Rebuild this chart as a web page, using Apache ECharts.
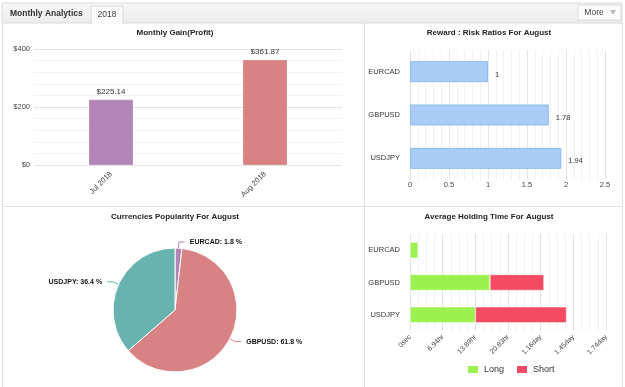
<!DOCTYPE html>
<html>
<head>
<meta charset="utf-8">
<script src="https://cdn.jsdelivr.net/npm/echarts@6/dist/echarts.min.js"></script>
<style>
  html, body { margin: 0; padding: 0; background: #fff; }
  #main { width: 625px; height: 387px; }
</style>
</head>
<body>
<div id="main"></div>
<script>
// data
var gainMonths = ['Jul 2018', 'Aug 2018'];
var gainValues = [225.14, 361.87];
var gainColors = ['#b384b6', '#d98284'];

var ratioPairs = ['EURCAD', 'GBPUSD', 'USDJPY'];
var ratioValues = [1, 1.78, 1.94];

var popNames = ['EURCAD', 'GBPUSD', 'USDJPY'];
var popValues = [1.8, 61.8, 36.4];
var popColors = ['#b384b6', '#d98284', '#68b3b0'];

var holdPairs = ['EURCAD', 'GBPUSD', 'USDJPY'];
var holdLong = [6300, 61200, 50000];   // seconds
var holdShort = [0, 41300, 69800];     // seconds

var FONT = 'Liberation Sans, Arial, sans-serif';

function fmtTime(v) {
    if (v === 0) return '0sec';
    if (v < 86400) return (v / 3600).toFixed(2) + 'hr';
    return (v / 86400).toFixed(2) + 'day';
}

var myChart = echarts.init(document.getElementById('main'));

var titleStyle = { fill: '#222', font: 'bold 8px ' + FONT, textAlign: 'center', textVerticalAlign: 'middle' };

option = {
    animation: false,
    textStyle: { fontFamily: FONT },
    graphic: [
        // header bar
        { type: 'rect', z: -10, shape: { x: 2, y: 3, width: 620, height: 20 },
          style: { fill: new echarts.graphic.LinearGradient(0, 0, 0, 1, [{ offset: 0, color: '#f7f7f7' }, { offset: 1, color: '#ececec' }]), stroke: '#dcdcdc', lineWidth: 1 } },
        { type: 'rect', z: -9, shape: { x: 91, y: 6, width: 32, height: 17 },
          style: { fill: '#fafafa', stroke: '#d8d8d8', lineWidth: 1 } },
        { type: 'line', z: -8, shape: { x1: 92, y1: 23, x2: 122, y2: 23 }, style: { stroke: '#fafafa', lineWidth: 2 } },
        { type: 'text', style: { text: 'Monthly Analytics', x: 10, y: 14, fill: '#333', font: 'bold 8.5px ' + FONT, textVerticalAlign: 'middle' } },
        { type: 'text', style: { text: '2018', x: 107, y: 15, fill: '#444', font: '8.5px ' + FONT, textAlign: 'center', textVerticalAlign: 'middle' } },
        { type: 'rect', z: -9, shape: { x: 578, y: 5, width: 43, height: 15 },
          style: { fill: '#fcfcfc', stroke: '#dadada', lineWidth: 1 } },
        { type: 'text', style: { text: 'More', x: 594, y: 13, fill: '#444', font: '8.5px ' + FONT, textAlign: 'center', textVerticalAlign: 'middle' } },
        { type: 'polygon', shape: { points: [[610, 10], [616, 10], [613, 15]] }, style: { fill: '#bbb' } },
        // frame and dividers
        { type: 'line', shape: { x1: 2.5, y1: 23, x2: 2.5, y2: 387 }, style: { stroke: '#e0e0e0', lineWidth: 1 } },
        { type: 'line', shape: { x1: 622.5, y1: 23, x2: 622.5, y2: 387 }, style: { stroke: '#e0e0e0', lineWidth: 1 } },
        { type: 'line', shape: { x1: 364.5, y1: 23, x2: 364.5, y2: 387 }, style: { stroke: '#e0e0e0', lineWidth: 1 } },
        { type: 'line', shape: { x1: 2, y1: 206.5, x2: 622, y2: 206.5 }, style: { stroke: '#e0e0e0', lineWidth: 1 } },
        // panel titles
        { type: 'text', style: Object.assign({ text: 'Monthly Gain(Profit)', x: 175, y: 33 }, titleStyle) },
        { type: 'text', style: Object.assign({ text: 'Reward : Risk Ratios For August', x: 489, y: 33 }, titleStyle) },
        { type: 'text', style: Object.assign({ text: 'Currencies Popularity For August', x: 175, y: 217 }, titleStyle) },
        { type: 'text', style: Object.assign({ text: 'Average Holding Time For August', x: 489, y: 217 }, titleStyle) }
    ],
    legend: {
        data: ['Long', 'Short'],
        left: 461, top: 359,
        itemWidth: 12, itemHeight: 9, itemGap: 11,
        icon: 'rect',
        textStyle: { fontSize: 9, color: '#333' }
    },
    grid: [
        { left: 34, top: 49, width: 308, height: 116 },
        { left: 410, top: 50, width: 195, height: 130 },
        { left: 410, top: 234, width: 196, height: 97 }
    ],
    xAxis: [
        {
            type: 'category', gridIndex: 0, data: gainMonths,
            axisLine: { show: false }, axisTick: { show: false },
            axisLabel: { rotate: 45, fontSize: 7.5, color: '#444', margin: 8 }
        },
        {
            type: 'value', gridIndex: 1, min: 0, max: 2.5, interval: 0.5,
            axisLine: { show: false }, axisTick: { show: false },
            axisLabel: { fontSize: 7.5, color: '#444', margin: 1 },
            splitLine: { lineStyle: { color: '#e6e6e6' } },
            minorTick: { show: false, splitNumber: 5 },
            minorSplitLine: { show: true, lineStyle: { color: '#f2f2f2' } }
        },
        {
            type: 'value', gridIndex: 2, min: 0, max: 150000, interval: 25000,
            axisLine: { show: false }, axisTick: { show: false },
            axisLabel: { rotate: 45, fontSize: 7, color: '#444', margin: 5, formatter: fmtTime },
            splitLine: { lineStyle: { color: '#e3e3e3' } },
            minorTick: { show: false, splitNumber: 4 },
            minorSplitLine: { show: true, lineStyle: { color: '#f2f2f2' } }
        }
    ],
    yAxis: [
        {
            type: 'value', gridIndex: 0, min: 0, max: 400, interval: 200,
            axisLine: { show: false }, axisTick: { show: false },
            axisLabel: { fontSize: 7.5, color: '#444', margin: 4, formatter: function (v) { return '$' + v; } },
            splitLine: { lineStyle: { color: '#e6e6e6' } },
            minorTick: { show: false, splitNumber: 5 },
            minorSplitLine: { show: true, lineStyle: { color: '#f3f3f3' } }
        },
        {
            type: 'category', gridIndex: 1, data: ratioPairs, inverse: true,
            axisLine: { show: false }, axisTick: { show: false },
            axisLabel: { fontSize: 7.5, color: '#333', margin: 10 }
        },
        {
            type: 'category', gridIndex: 2, data: holdPairs, inverse: true,
            axisLine: { show: false }, axisTick: { show: false },
            axisLabel: { fontSize: 7.5, color: '#333', margin: 10 }
        }
    ],
    series: [
        {
            type: 'bar', xAxisIndex: 0, yAxisIndex: 0,
            barWidth: 44,
            data: gainValues.map(function (v, i) {
                return {
                    value: v,
                    itemStyle: { color: gainColors[i], borderColor: echarts.color.lift(gainColors[i], 0.1), borderWidth: 1 }
                };
            }),
            label: {
                show: true, position: 'top', distance: 4,
                fontSize: 8, color: '#333',
                formatter: function (p) { return '$' + p.value.toFixed(2); }
            }
        },
        {
            type: 'bar', xAxisIndex: 1, yAxisIndex: 1,
            barWidth: 21,
            data: ratioValues,
            itemStyle: { color: '#a9ccf6', borderColor: '#8dbbf0', borderWidth: 1 },
            label: { show: true, position: 'right', distance: 7, fontSize: 7.5, color: '#333', offset: [0, 3] }
        },
        {
            type: 'pie', center: [175, 310], radius: 62, startAngle: 90, clockwise: true,
            data: popNames.map(function (n, i) {
                return { name: n, value: popValues[i], itemStyle: { color: popColors[i] } };
            }),
            itemStyle: { borderColor: '#fff', borderWidth: 1 },
            label: { formatter: '{b}: {c} %', fontSize: 7, fontWeight: 'bold', color: '#111' },
            labelLine: { length: 6, length2: 6, lineStyle: { width: 1 } }
        },
        {
            name: 'Long', type: 'bar', stack: 'hold', xAxisIndex: 2, yAxisIndex: 2,
            barWidth: 16,
            data: holdLong,
            itemStyle: { color: '#9bf14e', borderColor: '#fff', borderWidth: 0.5 }
        },
        {
            name: 'Short', type: 'bar', stack: 'hold', xAxisIndex: 2, yAxisIndex: 2,
            barWidth: 16,
            data: holdShort,
            itemStyle: { color: '#f44b62', borderColor: '#fff', borderWidth: 0.5 }
        }
    ]
};

myChart.setOption(option);
window.addEventListener("resize", function () {
    myChart.resize();
});
</script>
</body>
</html>
